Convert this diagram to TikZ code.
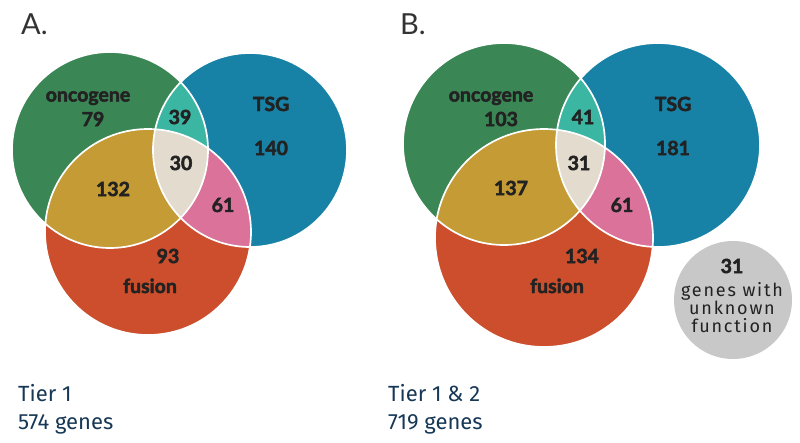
\documentclass[tikz,border=0pt]{standalone}
\usepackage{fontspec}
\setmainfont{Lato}
\newfontfamily\labfont{Lato Bold}[FakeBold=2.5]
\newfontfamily\unkfont{Fira Sans}[LetterSpace=10]
\newfontfamily\fira{Fira Sans}
\definecolor{cgreen}{RGB}{58,134,84}
\definecolor{cblue}{RGB}{24,130,166}
\definecolor{cteal}{RGB}{58,182,162}
\definecolor{cbeige}{RGB}{226,219,206}
\definecolor{cpink}{RGB}{218,114,154}
\definecolor{cgold}{RGB}{196,155,52}
\definecolor{cred}{RGB}{204,78,44}
\definecolor{cgray}{RGB}{200,200,200}
\definecolor{ctext}{RGB}{34,34,34}
\definecolor{cnavy}{RGB}{22,55,85}
\tikzset{
  lab/.style={inner sep=0pt, text=ctext, font=\labfont\fontsize{19.5}{19.5}\selectfont},
  title/.style={inner sep=0pt, anchor=base west, text=black!80, font=\fontsize{29}{29}\selectfont},
  tier/.style={inner sep=0pt, anchor=base west, text=cnavy, font=\fira\fontsize{22}{22}\selectfont},
  rim/.style={draw=white, line width=1.7pt}
}
\begin{document}
\begin{tikzpicture}[x=1pt,y=-1pt]
\useasboundingbox (0,0) rectangle (800,442);
% ---------- Panel A ----------
\coordinate (gA) at (110,150);
\coordinate (tA) at (250,150);
\coordinate (fA) at (148,232);
\fill[cgreen] (gA) circle[radius=98pt];
\fill[cblue] (tA) circle[radius=97pt];
\begin{scope}\clip (gA) circle[radius=98pt]; \fill[cteal] (tA) circle[radius=97pt];\end{scope}
\fill[cred] (fA) circle[radius=103pt];
\begin{scope}\clip (fA) circle[radius=103pt];
  \fill[cgold] (gA) circle[radius=98pt];
  \fill[cpink] (tA) circle[radius=97pt];
  \clip (gA) circle[radius=98pt];
  \fill[cbeige] (tA) circle[radius=97pt];
\end{scope}
\draw[rim] (gA) circle[radius=98pt] (tA) circle[radius=97pt] (fA) circle[radius=103pt];
\node[title] (tA0) at (21,34) {A.};
\node[lab, anchor=base] (onA) at (88,101.5) {oncogene};
\node[lab] (n79) at (93,119) {79};
\node[lab] (n39) at (180,117) {39};
\node[lab, anchor=base] (tsgA) at (271,111) {TSG};
\node[lab] (n140) at (271,148) {140};
\node[lab] (n30) at (181,163) {30};
\node[lab] (n132) at (113,189) {132};
\node[lab] (n61a) at (223,205) {61};
\node[lab] (n93) at (168,256) {93};
\node[lab, anchor=base] (fuA) at (150,293) {fusion};
\node[tier] (tierA) at (18,401) {Tier 1};
\node[tier] (genA) at (18,429) {574 genes};
% ---------- Panel B ----------
\coordinate (gB) at (504,144);
\coordinate (tB) at (658,145);
\coordinate (fB) at (544,238);
\fill[cgreen] (gB) circle[radius=101pt];
\fill[cblue] (tB) circle[radius=102pt];
\begin{scope}\clip (gB) circle[radius=101pt]; \fill[cteal] (tB) circle[radius=102pt];\end{scope}
\fill[cred] (fB) circle[radius=109pt];
\begin{scope}\clip (fB) circle[radius=109pt];
  \fill[cgold] (gB) circle[radius=101pt];
  \fill[cpink] (tB) circle[radius=102pt];
  \clip (gB) circle[radius=101pt];
  \fill[cbeige] (tB) circle[radius=102pt];
\end{scope}
\draw[rim] (gB) circle[radius=101pt] (tB) circle[radius=102pt] (fB) circle[radius=109pt];
\coordinate (uB) at (733,300);
\fill[cgray] (uB) circle[radius=59pt];
\node[title] (tB0) at (400,34) {B.};
\node[lab, anchor=base] (onB) at (491,101.5) {oncogene};
\node[lab] (n103) at (501,119) {103};
\node[lab] (n41) at (583,117) {41};
\node[lab, anchor=base] (tsgB) at (673,111) {TSG};
\node[lab] (n181) at (673,148) {181};
\node[lab] (n31) at (579,163) {31};
\node[lab] (n137) at (511,188) {137};
\node[lab] (n61b) at (622,205) {61};
\node[lab] (n134) at (582,256) {134};
\node[lab, anchor=base] (fuB) at (557,293) {fusion};
\node[lab] (n31u) at (732,266) {31};
\node[inner sep=0pt, align=center, text=ctext, font=\unkfont\fontsize{18}{18}\selectfont] (unk) at (732,308) {genes with\\unknown\\function};
\node[tier] (tierB) at (388,401) {Tier 1 \& 2};
\node[tier] (genB) at (388,429) {719 genes};
\end{tikzpicture}
\end{document}
